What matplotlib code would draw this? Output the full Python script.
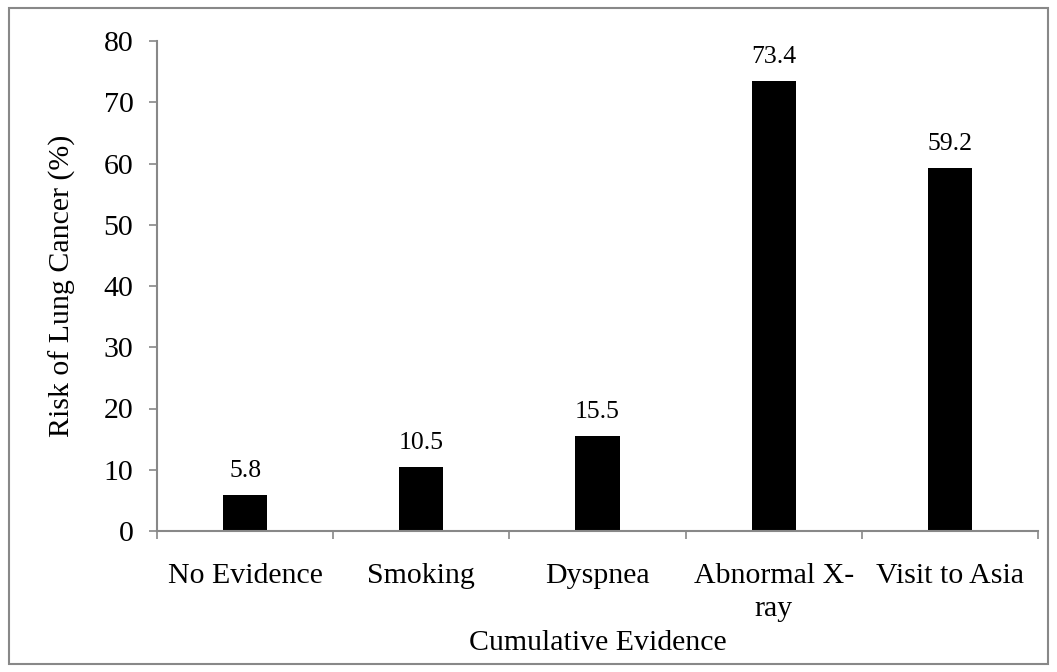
import matplotlib
matplotlib.use("Agg")
import matplotlib.pyplot as plt
from matplotlib.patches import Rectangle
import numpy as np

categories = ["No Evidence", "Smoking", "Dyspnea", "Abnormal X-\nray", "Visit to Asia"]
values = [5.8, 10.5, 15.5, 73.4, 59.2]
value_labels = ["5.8", "10.5", "15.5", "73.4", "59.2"]
yticks = [0, 10, 20, 30, 40, 50, 60, 70, 80]

plt.rcParams['font.family'] = ['Liberation Serif', 'DejaVu Serif']

fig = plt.figure(figsize=(10.57, 6.72), dpi=100)
ax = fig.add_axes([157/1057, 1-531/672, (1038-157)/1057, (531-41)/672])

x = np.arange(len(categories))
ax.bar(x, values, width=0.25, color='black')
ax.set_xlim(-0.5, len(categories)-0.5)
ax.set_ylim(0, 80)

for xi, v, lab in zip(x, values, value_labels):
    ax.annotate(lab, (xi, v), xytext=(0, 13), textcoords='offset points',
                ha='center', va='baseline', fontsize=18.5)

ax.set_yticks(yticks)
ax.set_yticklabels([str(t) for t in yticks], fontsize=21.5)
ax.set_xticks(x)
ax.set_xticklabels(categories, fontsize=21.5, linespacing=1.37)
ax.set_xticks(np.arange(-0.5, len(categories), 1.0), minor=True)
ax.tick_params(axis='x', which='major', length=0, pad=23)
ax.tick_params(axis='x', which='minor', length=6, width=1.2, color='#888888', direction='out')
ax.tick_params(axis='y', length=6, width=1.2, color='#888888', direction='out', pad=11)

for s in ['top', 'right']:
    ax.spines[s].set_visible(False)
for s in ['left', 'bottom']:
    ax.spines[s].set_color('#888888')
    ax.spines[s].set_linewidth(1.5)

ax.set_ylabel("Risk of Lung Cancer (%)", fontsize=21.5, labelpad=20)
ax.set_xlabel("Cumulative Evidence", fontsize=21.5, labelpad=5.5)

fig.patches.append(Rectangle((9/1057, 8/672), 1-18/1057, 1-16/672, transform=fig.transFigure,
                             fill=False, edgecolor='#888888', linewidth=1.5))

fig.savefig("out.png", dpi=100)
